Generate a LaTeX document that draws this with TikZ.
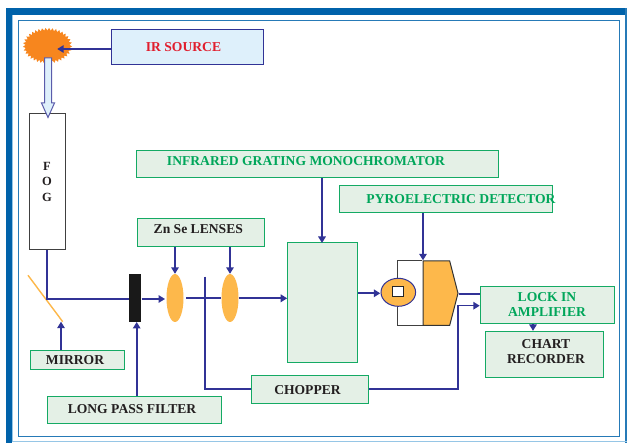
\documentclass[tikz,border=0pt]{standalone}
\usepackage{fontspec}
\setmainfont{Liberation Serif}
\usetikzlibrary{arrows.meta,calc,decorations.pathmorphing}
\definecolor{wire}{RGB}{49,51,150}
\definecolor{gbox}{RGB}{228,240,230}
\definecolor{gline}{RGB}{20,170,100}
\definecolor{gtext}{RGB}{0,166,90}
\definecolor{dtext}{RGB}{35,31,32}
\definecolor{lens}{RGB}{253,184,75}
\definecolor{frameblue}{RGB}{0,98,170}
\definecolor{framelight}{RGB}{150,198,230}
\definecolor{sunor}{RGB}{247,134,30}
\definecolor{paleblue}{RGB}{222,240,251}
\definecolor{irred}{RGB}{225,30,45}
\tikzset{
 boxl/.style={draw=gline,fill=gbox,line width=1pt,rectangle,inner sep=0pt},
 txt/.style={inner sep=0pt,font=\bfseries\fontsize{13.6}{15}\selectfont,align=center,text=dtext},
 gtxt/.style={txt,text=gtext},
 wirel/.style={draw=wire,line width=1.6pt},
 arr/.style={wirel,-{Triangle[length=6.5pt,width=7.5pt]}},
}
\begin{document}
\begin{tikzpicture}[x=1pt,y=-1pt]
\useasboundingbox (0,0) rectangle (627,443);
\fill[white] (0,0) rectangle (627,443);
% frames
\fill[frameblue] (6,8.5) rectangle (627,15);
\fill[frameblue] (6,8.5) rectangle (12,443);
\fill[frameblue!85!white] (625,8.5) rectangle (627,443);
\draw[framelight,line width=1pt] (12.5,15.5) -- (12.5,442) -- (627,442);
\draw[frameblue!85!white,line width=1pt] (18.5,21) rectangle (619,437);
% source
\fill[sunor,decorate,decoration={zigzag,segment length=3.4pt,amplitude=1.3pt}] (47.5,45.7) ellipse (23.3 and 16.5);
\node[inner sep=0pt,minimum width=19pt,minimum height=1pt] (src) at (47.5,49) {};
\node[draw=wire,fill=paleblue,line width=1pt,minimum width=152pt,minimum height=35pt,inner sep=0pt] (ir) at (187.5,47.5) {};
\node[txt,text=irred] (irt) at (183.5,47) {IR SOURCE};
\draw[arr] (ir.west |- src) -- (src.east);
% fog
\node[draw=black!75,fill=white,line width=1pt,minimum width=36pt,minimum height=136pt,inner sep=0pt,anchor=north] (fog) at (47.5,113.5) {};
\node[txt,font=\bfseries\fontsize{12.5}{15.5}\selectfont] (fogt) at (47,181.5) {F\\O\\G};
% hollow arrow
\draw[draw=wire!80,fill=paleblue,line width=1pt,line join=miter]
 (44.5,58) -- (51.5,58) -- (51.5,103) -- (54.5,103) -- (48,117.5) -- (41.5,103) -- (44.5,103) -- cycle;
% boxes
\node[boxl,minimum width=362pt,minimum height=27.5pt] (grating) at (317,164.2) {};
\node[gtxt] (gratingt) at (306,161.5) {INFRARED GRATING MONOCHROMATOR};
\node[boxl,minimum width=213pt,minimum height=27.5pt] (pyro) at (445.5,199.2) {};
\node[gtxt] (pyrot) at (461,199) {PYROELECTRIC DETECTOR};
\node[boxl,minimum width=127pt,minimum height=27.5pt] (zn) at (200.5,232.5) {};
\node[txt] (znt) at (198.3,229.3) {Zn Se LENSES};
\node[boxl,minimum width=70pt,minimum height=119.5pt] (mono) at (322.7,302.7) {};
\node[boxl,minimum width=94.5pt,minimum height=19.7pt] (mirror) at (77.5,359.9) {};
\node[txt] (mirrort) at (75,360.3) {MIRROR};
\node[boxl,minimum width=174pt,minimum height=27.3pt] (lpf) at (134.7,409.7) {};
\node[txt] (lpft) at (132,409) {LONG PASS FILTER};
\node[boxl,minimum width=117pt,minimum height=27.6pt] (chop) at (310.2,389.5) {};
\node[txt] (chopt) at (307.5,390) {CHOPPER};
\node[boxl,minimum width=134.5pt,minimum height=37.3pt] (lock) at (547.5,304.7) {};
\node[gtxt] (lockt) at (547,304.3) {LOCK IN\\AMPLIFIER};
\node[boxl,minimum width=117.6pt,minimum height=45.7pt] (chart) at (544.5,354.2) {};
\node[txt] (chartt) at (546,351.8) {CHART\\RECORDER};
% optics
\node[inner sep=0pt,minimum width=12.3pt,minimum height=47.7pt,fill=black!90] (filter) at (135.2,298.2) {};
\fill[lens] (175,298) ellipse (8.5 and 24);
\node[inner sep=0pt,minimum width=17pt,minimum height=48pt] (l1) at (175,298) {};
\fill[lens] (230,298) ellipse (8.5 and 24);
\node[inner sep=0pt,minimum width=17pt,minimum height=48pt] (l2) at (230,298) {};
\coordinate (mt) at (28,275.3);
\coordinate (mb) at (62.7,321.7);
\draw[lens,line width=1.4pt] (mt) -- (mb);
% detector
\node[inner sep=0pt,minimum size=1pt] (dettop) at (423,261) {};
\node[inner sep=0pt,minimum size=1pt] (tip) at (458,293.3) {};
\draw[black!75,line width=1pt] (dettop) -- (397.3,261) -- (397.3,325.3) -- (423,325.3);
\fill[lens] (423,261) -- (449.7,261) -- (458,293.3) -- (449.7,325.3) -- (423,325.3) -- cycle;
\draw[black!80,line width=1pt] (423,325.3) -- (449.7,325.3) -- (458,293.3) -- (449.7,261) -- (423,261) -- cycle;
\draw[fill=lens,draw=wire,line width=1pt] (398.3,292.3) ellipse (17.3 and 14);
\node[draw=black!85,fill=white,line width=1pt,inner sep=0pt,minimum width=11pt,minimum height=9.6pt] (cell) at (397.8,291.5) {};
\node[inner sep=0pt,minimum size=1pt] (celll) at (381,293.3) {};
% connectors
\coordinate (bend) at (46.7,299);
\draw[wirel] (fog.south -| bend) -- (bend) -- (filter.west |- bend);
\draw[arr] (filter.east |- bend) -- (165,299);
\draw[wirel] (186,298.3) -- (l2.west |- 186,298.3);
\draw[arr] (238.5,298.3) -- (mono.west |- 0,298.3);
\draw[arr] (grating.south -| 322,0) -- (322,243);
\draw[arr] (pyro.south -| dettop) -- (dettop);
\draw[arr] (zn.south -| l1) -- (l1.north);
\draw[arr] (zn.south -| l2) -- (l2.north);
\draw[arr] (mirror.north -| 61,0) -- (61,321.7);
\draw[arr] (lpf.north -| 136.7,0) -- (136.7,322);
\draw[arr] (mono.east |- celll) -- (celll);
\draw[wirel] (204.7,276.7) -- (204.7,389) -- (chop.west |- 0,389);
\draw[arr] (chop.east |- 0,389) -- (458,389) -- (458,305.7) -- (lock.west |- 0,305.7);
\draw[wirel] (tip.east |- 0,294.3) -- (lock.west |- 0,294.3);
\draw[wirel,-{Triangle[length=6.5pt,width=7.5pt]}] (lock.south -| 533,0) -- (chart.north -| 533,0);
\end{tikzpicture}
\end{document}
